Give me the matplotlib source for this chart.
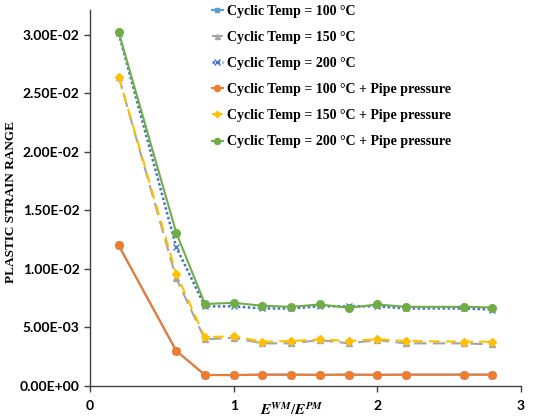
import matplotlib
matplotlib.use("Agg")
import matplotlib.pyplot as plt
from matplotlib.ticker import FixedLocator, FuncFormatter

plt.rcParams["mathtext.fontset"] = "stix"

x = [0.2, 0.6, 0.8, 1.0, 1.2, 1.4, 1.6, 1.8, 2.0, 2.2, 2.6, 2.8]
t100 = [0.0120, 0.0030, 0.00095, 0.00093, 0.00097, 0.00097, 0.00095, 0.00097, 0.00095, 0.00097, 0.00097, 0.00097]
t150 = [0.0264, 0.0092, 0.00398, 0.00412, 0.00364, 0.00364, 0.00392, 0.00364, 0.00392, 0.00364, 0.00364, 0.00355]
t200 = [0.0301, 0.01187, 0.0068, 0.0068, 0.00662, 0.00662, 0.0068, 0.0068, 0.0068, 0.00662, 0.00662, 0.00653]
t100p = [0.0120, 0.00301, 0.00094, 0.00093, 0.00097, 0.00097, 0.00095, 0.00097, 0.00095, 0.00097, 0.00097, 0.00097]
t150p = [0.0264, 0.0096, 0.00415, 0.00426, 0.00378, 0.00384, 0.00398, 0.00384, 0.0040, 0.00384, 0.00378, 0.00378]
t200p = [0.0302, 0.0131, 0.0070, 0.0071, 0.00685, 0.00676, 0.00696, 0.00668, 0.00696, 0.00676, 0.00676, 0.0067]

labels = ["Cyclic Temp = 100 °C", "Cyclic Temp = 150 °C", "Cyclic Temp = 200 °C",
          "Cyclic Temp = 100 °C + Pipe pressure", "Cyclic Temp = 150 °C + Pipe pressure",
          "Cyclic Temp = 200 °C + Pipe pressure"]
yticks = [0.0, 0.005, 0.010, 0.015, 0.020, 0.025, 0.030]
xticks = [0, 1, 2, 3]

fig = plt.figure(figsize=(5.33, 4.2), dpi=100)
ax = fig.add_axes([90/533, 1-386/420, 431/533, 376/420])

h1, = ax.plot(x, t100, color="#5B9BD5", ls="-", lw=1.5, marker="s", ms=4, label=labels[0])
h2, = ax.plot(x, t150, color="#A5A5A5", ls=(0, (6, 3)), lw=1.5, marker="^", ms=4.5, label=labels[1])
h3, = ax.plot(x, t200, color="#4472C4", ls=(0, (1, 1)), lw=1.8, marker="x", ms=5, label=labels[2])
h5, = ax.plot(x, t150p, color="#FFC000", ls=(0, (5, 3)), lw=1.5, marker="D", ms=4, label=labels[4])
h4, = ax.plot(x, t100p, color="#ED7D31", ls="-", lw=1.5, marker="o", ms=5.5, label=labels[3])
h6, = ax.plot(x, t200p, color="#70AD47", ls="-", lw=1.5, marker="o", ms=5.5, label=labels[5])

ax.set_xlim(0, 3)
ax.set_ylim(0, 0.0321)
ax.xaxis.set_major_locator(FixedLocator(xticks))
ax.yaxis.set_major_locator(FixedLocator(yticks))
ax.yaxis.set_major_formatter(FuncFormatter(lambda v, p: f"{v:.2E}"))
for s in ["top", "right"]:
    ax.spines[s].set_visible(False)
for s in ["left", "bottom"]:
    ax.spines[s].set_color("#404040")
    ax.spines[s].set_linewidth(1.0)
ax.tick_params(axis="both", direction="out", length=4, color="#404040", width=1)
for lab in ax.get_xticklabels() + ax.get_yticklabels():
    lab.set_fontfamily("Lato")
    lab.set_fontweight("bold")
    lab.set_fontsize(10)
ax.tick_params(axis="x", pad=6)

ax.set_ylabel("PLASTIC STRAIN RANGE", family="Liberation Serif", fontweight="bold", fontsize=9.5)
ax.yaxis.set_label_coords(-0.17, 0.49)
fig.text(292/533, 1-410/420, r"$\mathbfit{E}^{\mathbfit{WM}}/\mathbfit{E}^{\mathbfit{PM}}$",
         ha="center", va="center", fontsize=11)

handles = [h1, h2, h3, h4, h5, h6]
leg = fig.legend(handles, labels, loc="upper left", bbox_to_anchor=(199/533, 1+8/420),
                 frameon=False, handlelength=0.8, handletextpad=0.3, labelspacing=0.95,
                 prop={"family": "Liberation Serif", "weight": "bold", "size": 10},
                 markerscale=0.8)

fig.savefig("out.png", dpi=100)
